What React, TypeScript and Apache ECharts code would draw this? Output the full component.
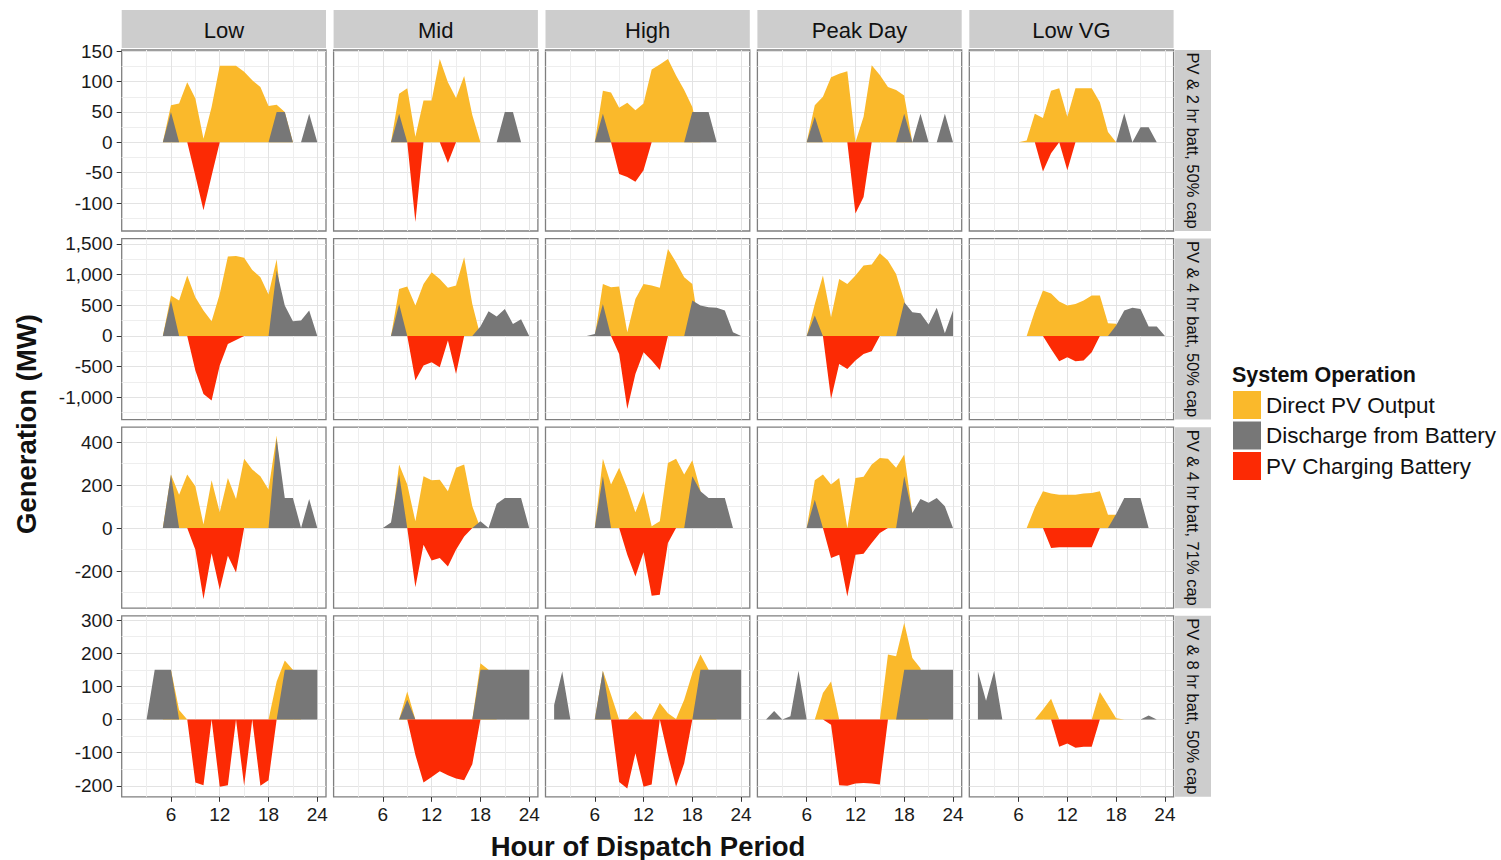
import React, { useEffect, useRef } from 'react';
import * as echarts from 'echarts';

// ---------- categories & labels ----------
const hours = [1, 2, 3, 4, 5, 6, 7, 8, 9, 10, 11, 12, 13, 14, 15, 16, 17, 18, 19, 20, 21, 22, 23, 24];
const scenarios = ['Low', 'Mid', 'High', 'Peak Day', 'Low VG'];
const configs = ['PV & 2 hr batt, 50% cap', 'PV & 4 hr batt, 50% cap', 'PV & 4 hr batt, 71% cap', 'PV & 8 hr batt, 50% cap'];
const seriesNames = ['Direct PV Output', 'Discharge from Battery', 'PV Charging Battery'];
const legendTitle = 'System Operation';
const xTitle = 'Hour of Dispatch Period';
const yTitle = 'Generation (MW)';

// ---------- tick values ----------
const xMajorTicks = [6, 12, 18, 24];
const xMinorTicks = [3, 9, 15, 21];
const yMajor2h = [-100, -50, 0, 50, 100, 150];
const yMinor2h = [-125, -75, -25, 25, 75, 125];
const yMajor4h50 = [-1000, -500, 0, 500, 1000, 1500];
const yMinor4h50 = [-1250, -750, -250, 250, 750, 1250];
const yMajor4h71 = [-200, 0, 200, 400];
const yMinor4h71 = [-300, -100, 100, 300];
const yMajor8h = [-200, -100, 0, 100, 200, 300];
const yMinor8h = [-150, -50, 50, 150, 250];

// ---------- data (hours 1..24), one list per scenario: Low, Mid, High, Peak Day, Low VG ----------
// PV & 2 hr batt, 50% cap
const pv2h = [
  [0, 0, 0, 0, 0, 61, 64, 99, 72, 6, 58, 126, 126, 126, 116, 102, 91, 60, 62, 50, 0, 0, 0, 0],
  [0, 0, 0, 0, 0, 0, 0, 80, 89, 9, 69, 69, 137, 99, 73, 109, 45, 0, 0, 0, 0, 0, 0, 0],
  [0, 0, 0, 0, 0, 0, 85, 82, 57, 65, 53, 64, 120, 128, 137, 110, 86, 58, 0, 0, 0, 0, 0, 0],
  [0, 0, 0, 0, 0, 0, 61, 75, 107, 113, 117, 0, 42, 127, 111, 91, 86, 77, 0, 0, 0, 0, 0, 0],
  [0, 0, 0, 0, 0, 0, 3, 47, 40, 85, 89, 42, 89, 89, 89, 66, 17, 0, 0, 0, 0, 0, 0, 0],
];
const dis2h = [
  [0, 0, 0, 0, 0, 50, 0, 0, 0, 0, 0, 0, 0, 0, 0, 0, 0, 0, 50, 50, 0, 0, 47, 0],
  [0, 0, 0, 0, 0, 0, 0, 47, 0, 0, 0, 0, 0, 0, 0, 0, 0, 0, 0, 0, 50, 50, 0, 0],
  [0, 0, 0, 0, 0, 0, 47, 0, 0, 0, 0, 0, 0, 0, 0, 0, 0, 50, 50, 50, 0, 0, 0, 0],
  [0, 0, 0, 0, 0, 0, 42, 0, 0, 0, 0, 0, 0, 0, 0, 0, 0, 47, 0, 47, 0, 0, 47, 0],
  [0, 0, 0, 0, 0, 0, 0, 0, 0, 0, 0, 0, 0, 0, 0, 0, 0, 0, 48, 0, 25, 25, 0, 0],
];
const chg2h = [
  [0, 0, 0, 0, 0, 0, 0, 0, -55, -112, -55, 0, 0, 0, 0, 0, 0, 0, 0, 0, 0, 0, 0, 0],
  [0, 0, 0, 0, 0, 0, 0, 0, 0, -131, 0, 0, 0, -34, 0, 0, 0, 0, 0, 0, 0, 0, 0, 0],
  [0, 0, 0, 0, 0, 0, 0, 0, -52, -57, -65, -46, 0, 0, 0, 0, 0, 0, 0, 0, 0, 0, 0, 0],
  [0, 0, 0, 0, 0, 0, 0, 0, 0, 0, 0, -117, -90, 0, 0, 0, 0, 0, 0, 0, 0, 0, 0, 0],
  [0, 0, 0, 0, 0, 0, 0, 0, -48, -18, 0, -46, 0, 0, 0, 0, 0, 0, 0, 0, 0, 0, 0, 0],
];

// PV & 4 hr batt, 50% cap
const pv4h50 = [
  [0, 0, 0, 0, 0, 658, 576, 984, 630, 413, 239, 685, 1294, 1304, 1272, 1076, 957, 674, 1250, 0, 0, 0, 0, 0],
  [0, 0, 0, 0, 0, 0, 0, 766, 804, 495, 848, 1038, 929, 783, 821, 1283, 522, 0, 0, 0, 0, 0, 0, 0],
  [0, 0, 0, 0, 0, 0, 848, 793, 804, 60, 603, 848, 820, 783, 1418, 1201, 957, 848, 0, 0, 0, 0, 0, 0],
  [0, 0, 0, 0, 0, 0, 522, 984, 304, 929, 848, 984, 1147, 1163, 1348, 1228, 1011, 576, 0, 0, 0, 0, 0, 0],
  [0, 0, 0, 0, 0, 0, 0, 400, 739, 690, 560, 495, 522, 576, 658, 658, 207, 200, 0, 0, 0, 0, 0, 0],
];
const dis4h50 = [
  [0, 0, 0, 0, 0, 576, 0, 0, 0, 0, 0, 0, 0, 0, 0, 0, 0, 0, 1065, 495, 239, 250, 413, 0],
  [0, 0, 0, 0, 0, 0, 0, 522, 0, 0, 0, 0, 0, 0, 0, 0, 0, 152, 402, 315, 440, 196, 272, 0],
  [0, 0, 0, 0, 0, 30, 522, 0, 0, 0, 0, 0, 0, 0, 0, 0, 0, 576, 495, 467, 457, 413, 60, 0],
  [0, 0, 0, 0, 0, 0, 332, 0, 0, 0, 0, 0, 0, 0, 0, 0, 0, 549, 386, 370, 185, 457, 43, 413],
  [0, 0, 0, 0, 0, 0, 0, 0, 0, 0, 0, 0, 0, 0, 0, 0, 0, 170, 413, 457, 440, 152, 152, 0],
];
const chg4h50 = [
  [0, 0, 0, 0, 0, 0, 0, 0, -565, -946, -1054, -484, -130, -65, 0, 0, 0, 0, 0, 0, 0, 0, 0, 0],
  [0, 0, 0, 0, 0, 0, 0, 0, 0, -728, -484, -429, -511, -76, -620, 0, 0, 0, 0, 0, 0, 0, 0, 0],
  [0, 0, 0, 0, 0, 0, 0, 0, -293, -1190, -620, -266, -402, -554, 0, 0, 0, 0, 0, 0, 0, 0, 0, 0],
  [0, 0, 0, 0, 0, 0, 0, 0, -1027, -456, -538, -402, -293, -250, 0, 0, 0, 0, 0, 0, 0, 0, 0, 0],
  [0, 0, 0, 0, 0, 0, 0, 0, 0, -212, -413, -348, -413, -402, -266, 0, 0, 0, 0, 0, 0, 0, 0, 0],
];

// PV & 4 hr batt, 71% cap
const pv4h71 = [
  [0, 0, 0, 0, 0, 249, 155, 249, 194, 16, 222, 73, 233, 135, 322, 272, 241, 179, 430, 0, 0, 0, 0, 0],
  [0, 0, 0, 0, 0, 0, 0, 295, 202, 31, 241, 222, 225, 171, 280, 295, 101, 0, 0, 0, 0, 0, 0, 0],
  [0, 0, 0, 0, 0, 0, 322, 202, 280, 186, 73, 171, 8, 31, 303, 322, 249, 315, 175, 0, 0, 0, 0, 0],
  [0, 0, 0, 0, 0, 0, 222, 249, 202, 233, 0, 233, 238, 295, 326, 322, 280, 342, 70, 0, 0, 0, 0, 0],
  [0, 0, 0, 0, 0, 0, 0, 95, 171, 160, 155, 155, 155, 160, 163, 171, 62, 62, 0, 0, 0, 0, 0, 0],
];
const dis4h71 = [
  [0, 0, 0, 0, 0, 249, 0, 0, 0, 0, 0, 0, 0, 0, 0, 0, 0, 0, 415, 140, 140, 0, 135, 0],
  [0, 0, 0, 0, 0, 0, 26, 249, 0, 0, 0, 0, 0, 0, 0, 0, 0, 31, 0, 113, 140, 140, 140, 0],
  [0, 0, 0, 0, 0, 0, 241, 0, 0, 0, 0, 0, 0, 0, 0, 0, 0, 241, 171, 140, 140, 140, 0, 0],
  [0, 0, 0, 0, 0, 0, 132, 0, 0, 0, 0, 0, 0, 0, 0, 0, 0, 241, 70, 135, 117, 140, 101, 0],
  [0, 0, 0, 0, 0, 0, 0, 0, 0, 0, 0, 0, 0, 0, 0, 0, 0, 65, 140, 140, 140, 0, 0, 0],
];
const chg4h71 = [
  [0, 0, 0, 0, 0, 0, 0, 0, -101, -331, -117, -287, -129, -207, 0, 0, 0, 0, 0, 0, 0, 0, 0, 0],
  [0, 0, 0, 0, 0, 0, 0, 0, 0, -275, -78, -151, -140, -179, -101, -39, 0, 0, 0, 0, 0, 0, 0, 0],
  [0, 0, 0, 0, 0, 0, 0, 0, 0, -124, -225, -113, -315, -311, -70, 0, 0, 0, 0, 0, 0, 0, 0, 0],
  [0, 0, 0, 0, 0, 0, 0, 0, -140, -124, -319, -124, -120, -70, -23, 0, 0, 0, 0, 0, 0, 0, 0, 0],
  [0, 0, 0, 0, 0, 0, 0, 0, 0, -93, -89, -89, -89, -89, -89, 0, 0, 0, 0, 0, 0, 0, 0, 0],
];

// PV & 8 hr batt, 50% cap
const pv8h = [
  [0, 0, 0, 0, 0, 150, 29, 0, 0, 0, 0, 0, 0, 0, 0, 0, 0, 0, 115, 178, 150, 0, 0, 0],
  [0, 0, 0, 0, 0, 0, 0, 0, 85, 0, 0, 0, 0, 0, 0, 0, 0, 170, 150, 0, 0, 0, 0, 0],
  [0, 0, 0, 0, 0, 0, 147, 75, 0, 0, 26, 0, 0, 50, 19, 2, 60, 140, 196, 150, 0, 0, 0, 0],
  [0, 0, 0, 0, 0, 0, 0, 80, 115, 0, 0, 0, 0, 0, 0, 196, 191, 292, 186, 155, 0, 0, 0, 0],
  [0, 0, 0, 0, 0, 0, 0, 0, 30, 63, 0, 0, 0, 0, 0, 83, 44, 4, 0, 0, 0, 0, 0, 0],
];
const dis8h = [
  [0, 0, 0, 150, 150, 150, 0, 0, 0, 0, 0, 0, 0, 0, 0, 0, 0, 0, 0, 150, 150, 150, 150, 150],
  [0, 0, 0, 0, 0, 0, 0, 0, 60, 0, 0, 0, 0, 0, 0, 0, 0, 150, 150, 150, 150, 150, 150, 150],
  [44, 145, 0, 0, 0, 0, 147, 0, 0, 0, 0, 0, 0, 0, 0, 0, 0, 0, 150, 150, 150, 150, 150, 150],
  [0, 26, 0, 10, 147, 0, 0, 0, 0, 0, 0, 0, 0, 0, 0, 0, 0, 150, 150, 150, 150, 150, 150, 150],
  [145, 57, 147, 0, 0, 0, 0, 0, 0, 0, 0, 0, 0, 0, 0, 0, 0, 0, 0, 0, 0, 12, 0, 0],
];
const chg8h = [
  [0, 0, 0, 0, 0, 0, 0, 0, -190, -198, 0, -203, -198, 0, -200, 0, -200, -183, 0, 0, 0, 0, 0, 0],
  [0, 0, 0, 0, 0, 0, 0, 0, 0, -107, -190, -173, -156, -168, -178, -183, -135, 0, 0, 0, 0, 0, 0, 0],
  [0, 0, 0, 0, 0, 0, 0, 0, -188, -208, -102, -203, -196, 0, -107, -203, -132, 0, 0, 0, 0, 0, 0, 0],
  [0, 0, 0, 0, 0, 0, 0, 0, -16, -198, -200, -193, -191, -193, -196, 0, 0, 0, 0, 0, 0, 0, 0, 0],
  [0, 0, 0, 0, 0, 0, 0, 0, 0, 0, -82, -72, -85, -82, -82, 0, 0, 0, 0, 0, 0, 0, 0, 0],
];

// ---------- styling / layout ----------
const FONT = '"Liberation Sans", Arial, Helvetica, sans-serif';
const COLORS = ['#FAB92B', '#777777', '#FC2A04'];
const PANEL_LEFT = 121.7;
const PANEL_STEP_X = 211.9;
const PANEL_W = 204.3;
const PANEL_TOP = 50;
const PANEL_STEP_Y = 188.6;
const PANEL_H = 181;
const X_MIN = -0.06;
const X_MAX = 25.07;

const rows = [
  { pv: pv2h, dis: dis2h, chg: chg2h, min: -146, max: 152, major: yMajor2h, minor: yMinor2h },
  { pv: pv4h50, dis: dis4h50, chg: chg4h50, min: -1364, max: 1586, major: yMajor4h50, minor: yMinor4h50 },
  { pv: pv4h71, dis: dis4h71, chg: chg4h71, min: -373, max: 469, major: yMajor4h71, minor: yMinor4h71 },
  { pv: pv8h, dis: dis8h, chg: chg8h, min: -233, max: 313, major: yMajor8h, minor: yMinor8h },
];

function buildOption() {
  const grid: any[] = [];
  const xAxis: any[] = [];
  const yAxis: any[] = [];
  const series: any[] = [];
  const graphics: any[] = [];

  rows.forEach((row, r) => {
    scenarios.forEach((sc, c) => {
      const k = r * 5 + c;
      const left = PANEL_LEFT + PANEL_STEP_X * c;
      const top = PANEL_TOP + PANEL_STEP_Y * r;
      grid.push({
        left, top, width: PANEL_W, height: PANEL_H, containLabel: false,
        show: true, borderColor: '#7F7F7F', borderWidth: 1.3, backgroundColor: '#FFFFFF',
      });
      const bottomRow = r === rows.length - 1;
      xAxis.push({
        gridIndex: k, type: 'value', min: X_MIN, max: X_MAX, position: 'bottom',
        axisLine: { show: false, onZero: false },
        axisTick: { show: bottomRow, customValues: xMajorTicks, length: 5, lineStyle: { color: '#333333', width: 1 } },
        axisLabel: { show: bottomRow, customValues: xMajorTicks, fontSize: 19, color: '#1a1a1a', fontFamily: FONT, margin: 8 },
        splitLine: { show: true, lineStyle: { color: '#E3E3E3', width: 1 } },
      });
      xAxis.push({
        gridIndex: k, type: 'value', min: X_MIN, max: X_MAX, position: 'top',
        axisLine: { show: false, onZero: false },
        axisTick: { show: false, customValues: xMinorTicks },
        axisLabel: { show: false },
        splitLine: { show: true, lineStyle: { color: '#EEEEEE', width: 1 } },
      });
      const firstCol = c === 0;
      yAxis.push({
        gridIndex: k, type: 'value', min: row.min, max: row.max, position: 'left',
        axisLine: { show: false, onZero: false },
        axisTick: { show: firstCol, customValues: row.major, length: 5, lineStyle: { color: '#333333', width: 1 } },
        axisLabel: {
          show: firstCol, customValues: row.major, fontSize: 19, color: '#1a1a1a', fontFamily: FONT, margin: 9,
          formatter: (v: number) => Number(v).toLocaleString('en-US'),
        },
        splitLine: { show: true, lineStyle: { color: '#E3E3E3', width: 1 } },
      });
      yAxis.push({
        gridIndex: k, type: 'value', min: row.min, max: row.max, position: 'right',
        axisLine: { show: false, onZero: false },
        axisTick: { show: false, customValues: row.minor },
        axisLabel: { show: false },
        splitLine: { show: true, lineStyle: { color: '#EEEEEE', width: 1 } },
      });

      const lists = [row.pv[c], row.dis[c], row.chg[c]];
      lists.forEach((vals, s) => {
        series.push({
          name: seriesNames[s], type: 'line', xAxisIndex: 2 * k, yAxisIndex: 2 * k,
          data: hours.map((h, i) => [h, vals[i]]),
          symbol: 'none', showSymbol: false, silent: true,
          color: COLORS[s],
          itemStyle: { color: COLORS[s] },
          lineStyle: { width: 0, opacity: 0, color: COLORS[s] },
          areaStyle: { color: COLORS[s], opacity: 1 },
          z: 2 + s,
        });
      });

      // top strips
      if (r === 0) {
        graphics.push({
          type: 'rect', shape: { x: left, y: 10, width: PANEL_W, height: 38 },
          style: { fill: '#CDCDCD' }, silent: true,
        });
        graphics.push({
          type: 'text', x: left + PANEL_W / 2, y: 30,
          style: {
            text: sc, fill: '#111111', fontSize: 22, fontFamily: FONT,
            align: 'center', verticalAlign: 'middle', textAlign: 'center', textVerticalAlign: 'middle',
          },
          silent: true,
        });
      }
    });
    // right strips
    const top = PANEL_TOP + PANEL_STEP_Y * r;
    graphics.push({
      type: 'rect', shape: { x: 1175, y: top, width: 36, height: PANEL_H },
      style: { fill: '#CDCDCD' }, silent: true,
    });
    graphics.push({
      type: 'text', x: 1193, y: top + PANEL_H / 2, rotation: -Math.PI / 2,
      style: {
        text: configs[r], fill: '#111111', fontSize: 16.5, fontFamily: FONT,
        align: 'center', verticalAlign: 'middle', textAlign: 'center', textVerticalAlign: 'middle',
      },
      silent: true,
    });
  });

  // axis titles
  graphics.push({
    type: 'text', x: 648, y: 846,
    style: {
      text: xTitle, fill: '#111111', fontSize: 27.5, fontWeight: 'bold', fontFamily: FONT,
      align: 'center', verticalAlign: 'middle', textAlign: 'center', textVerticalAlign: 'middle',
    },
    silent: true,
  });
  graphics.push({
    type: 'text', x: 26, y: 424, rotation: Math.PI / 2,
    style: {
      text: yTitle, fill: '#111111', fontSize: 27.5, fontWeight: 'bold', fontFamily: FONT,
      align: 'center', verticalAlign: 'middle', textAlign: 'center', textVerticalAlign: 'middle',
    },
    silent: true,
  });
  // legend title
  graphics.push({
    type: 'text', x: 1232, y: 375,
    style: {
      text: legendTitle, fill: '#111111', fontSize: 21.5, fontWeight: 'bold', fontFamily: FONT,
      align: 'left', verticalAlign: 'middle', textAlign: 'left', textVerticalAlign: 'middle',
    },
    silent: true,
  });

  return {
    animation: false,
    backgroundColor: '#FFFFFF',
    textStyle: { fontFamily: FONT },
    grid, xAxis, yAxis, series,
    legend: {
      data: seriesNames, left: 1233, top: 391, orient: 'vertical', icon: 'rect',
      itemWidth: 28, itemHeight: 28, itemGap: 2.5, padding: 0, selectedMode: false,
      textStyle: { fontSize: 22.5, color: '#111111', fontFamily: FONT },
    },
    graphic: { elements: graphics },
  };
}

export default function App() {
  const ref = useRef<HTMLDivElement>(null);
  useEffect(() => {
    if (!ref.current) return;
    const chart = echarts.init(ref.current, undefined, { renderer: 'svg' });
    chart.setOption(buildOption() as any);
    return () => chart.dispose();
  }, []);
  return (
    <div
      ref={ref}
      style={{ position: 'absolute', left: 0, top: 0, width: 1501, height: 860, background: '#fff' }}
    />
  );
}
